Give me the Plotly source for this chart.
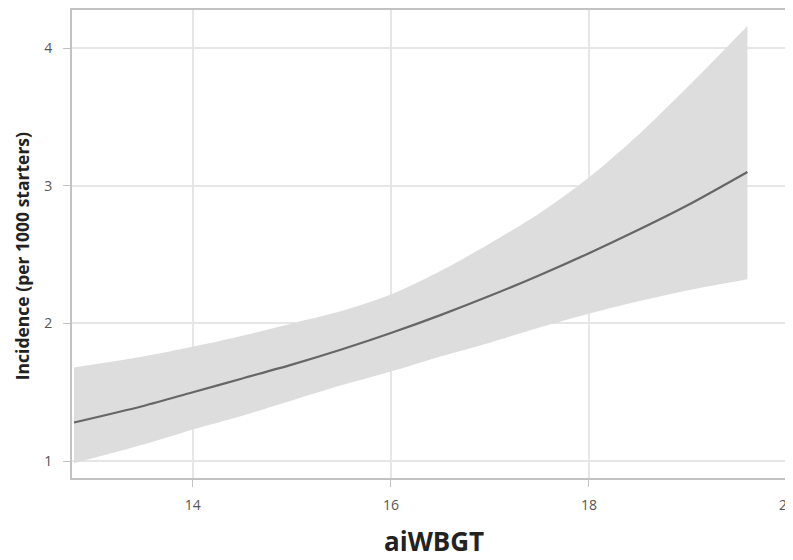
import plotly.graph_objects as go

x_vals = [12.8, 13.5, 14.0, 14.5, 15.0, 15.5, 16.0, 16.5, 17.0, 17.5, 18.0, 18.5, 19.0, 19.6]
fit = [1.28, 1.40, 1.50, 1.60, 1.70, 1.81, 1.93, 2.06, 2.20, 2.35, 2.51, 2.68, 2.86, 3.10]
upper = [1.68, 1.76, 1.83, 1.91, 2.00, 2.09, 2.21, 2.38, 2.58, 2.80, 3.06, 3.37, 3.72, 4.16]
lower = [0.985, 1.12, 1.23, 1.33, 1.44, 1.55, 1.65, 1.76, 1.86, 1.97, 2.07, 2.16, 2.24, 2.32]

x_ticks = [14, 16, 18, 20]
y_ticks = [1, 2, 3, 4]
x_title = "aiWBGT"
y_title = "Incidence (per 1000 starters)"

fig = go.Figure()
fig.add_trace(go.Scatter(x=x_vals, y=lower, mode="lines",
                         line=dict(width=0, shape="spline", smoothing=0.8),
                         showlegend=False, hoverinfo="skip"))
fig.add_trace(go.Scatter(x=x_vals, y=upper, mode="lines",
                         line=dict(width=0, shape="spline", smoothing=0.8),
                         fill="tonexty", fillcolor="#dddddd", showlegend=False, hoverinfo="skip"))
fig.add_trace(go.Scatter(x=x_vals, y=fit, mode="lines",
                         line=dict(color="#666666", width=2.2, shape="spline", smoothing=0.8),
                         showlegend=False))

axis_common = dict(showgrid=True, gridcolor="#e6e6e6", gridwidth=2, showline=True, linecolor="#c2c2c2",
                   linewidth=2, mirror=True, ticks="outside", ticklen=7, tickcolor="#c2c2c2",
                   tickwidth=1, zeroline=False, automargin=False, ticklabeloverflow="allow",
                   tickfont=dict(family="Open Sans", size=14, color="#555555"))

fig.update_xaxes(range=[12.78, 20.06], tickvals=x_ticks, ticktext=[str(t) for t in x_ticks],
                 ticklabelstandoff=6, **axis_common)
fig.update_yaxes(range=[0.877, 4.276], tickvals=y_ticks, ticktext=[str(t) for t in y_ticks],
                 ticklabelstandoff=8, **axis_common)

fig.add_annotation(text="<b>" + x_title + "</b>", xref="paper", yref="paper", x=0.502, y=-0.1355,
                   xanchor="center", yanchor="middle", showarrow=False,
                   font=dict(family="Open Sans", size=26, color="#222222"))
fig.add_annotation(text="<b>" + y_title + "</b>", xref="paper", yref="paper", x=-0.0693, y=0.474,
                   xanchor="center", yanchor="middle", textangle=-90, showarrow=False,
                   font=dict(family="Open Sans", size=17.5, color="#222222"))

fig.update_layout(width=785, height=560, margin=dict(l=64, r=0, t=2, b=90),
                  plot_bgcolor="white", paper_bgcolor="white")

fig.write_html("out.html")
